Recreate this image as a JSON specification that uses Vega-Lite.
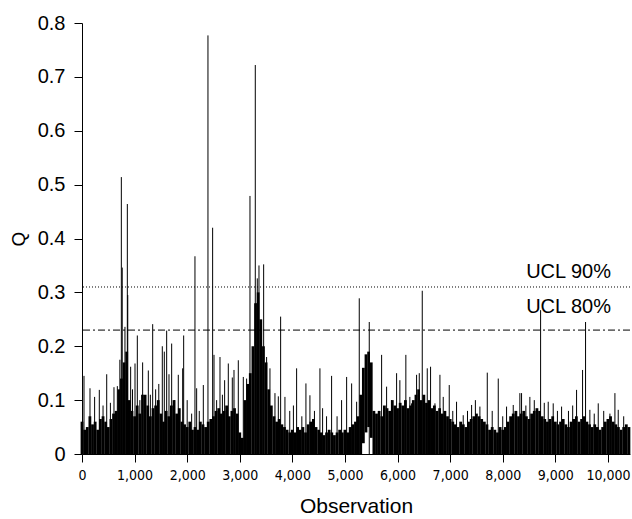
{
  "$schema": "https://vega.github.io/schema/vega-lite/v6.json",
  "width": 548,
  "height": 431,
  "autosize": {"type": "none"},
  "padding": {"left": 82, "top": 23, "right": 2, "bottom": 65},
  "background": "white",
  "config": {
    "view": {"stroke": null},
    "font": "Liberation Sans",
    "axis": {"grid": false, "domainColor": "#000", "tickColor": "#000", "labelColor": "#000", "titleColor": "#000", "titleFontWeight": "normal", "domainWidth": 1, "tickWidth": 1}
  },
  "datasets": {
    "mass": [
      {"x":0,"lo":0,"hi":0.06},{"x":50,"lo":0,"hi":0.045},{"x":100,"lo":0,"hi":0.05},{"x":150,"lo":0,"hi":0.07},{"x":200,"lo":0,"hi":0.055},{"x":250,"lo":0,"hi":0.06},{"x":300,"lo":0,"hi":0.045},{"x":350,"lo":0,"hi":0.065},{"x":400,"lo":0,"hi":0.07},{"x":450,"lo":0,"hi":0.06},
      {"x":500,"lo":0,"hi":0.05},{"x":550,"lo":0,"hi":0.065},{"x":600,"lo":0,"hi":0.075},{"x":650,"lo":0,"hi":0.08},{"x":700,"lo":0,"hi":0.12},{"x":750,"lo":0,"hi":0.14},{"x":800,"lo":0,"hi":0.17},{"x":850,"lo":0,"hi":0.19},{"x":900,"lo":0,"hi":0.1},{"x":950,"lo":0,"hi":0.08},
      {"x":1000,"lo":0,"hi":0.07},{"x":1050,"lo":0,"hi":0.09},{"x":1100,"lo":0,"hi":0.075},{"x":1150,"lo":0,"hi":0.11},{"x":1200,"lo":0,"hi":0.11},{"x":1250,"lo":0,"hi":0.09},{"x":1300,"lo":0,"hi":0.07},{"x":1350,"lo":0,"hi":0.085},{"x":1400,"lo":0,"hi":0.09},{"x":1450,"lo":0,"hi":0.1},
      {"x":1500,"lo":0,"hi":0.075},{"x":1550,"lo":0,"hi":0.06},{"x":1600,"lo":0,"hi":0.08},{"x":1650,"lo":0,"hi":0.07},{"x":1700,"lo":0,"hi":0.09},{"x":1750,"lo":0,"hi":0.1},{"x":1800,"lo":0,"hi":0.075},{"x":1850,"lo":0,"hi":0.085},{"x":1900,"lo":0,"hi":0.06},{"x":1950,"lo":0,"hi":0.055},
      {"x":2000,"lo":0,"hi":0.05},{"x":2050,"lo":0,"hi":0.06},{"x":2100,"lo":0,"hi":0.045},{"x":2150,"lo":0,"hi":0.05},{"x":2200,"lo":0,"hi":0.045},{"x":2250,"lo":0,"hi":0.06},{"x":2300,"lo":0,"hi":0.055},{"x":2350,"lo":0,"hi":0.05},{"x":2400,"lo":0,"hi":0.06},{"x":2450,"lo":0,"hi":0.065},
      {"x":2500,"lo":0,"hi":0.07},{"x":2550,"lo":0,"hi":0.08},{"x":2600,"lo":0,"hi":0.085},{"x":2650,"lo":0,"hi":0.075},{"x":2700,"lo":0,"hi":0.08},{"x":2750,"lo":0,"hi":0.09},{"x":2800,"lo":0,"hi":0.07},{"x":2850,"lo":0,"hi":0.08},{"x":2900,"lo":0,"hi":0.085},{"x":2950,"lo":0,"hi":0.075},
      {"x":3000,"lo":0,"hi":0.04},{"x":3050,"lo":0,"hi":0.03},{"x":3100,"lo":0,"hi":0.1},{"x":3150,"lo":0,"hi":0.13},{"x":3200,"lo":0,"hi":0.15},{"x":3250,"lo":0,"hi":0.2},{"x":3300,"lo":0,"hi":0.28},{"x":3350,"lo":0,"hi":0.3},{"x":3400,"lo":0,"hi":0.25},{"x":3450,"lo":0,"hi":0.2},
      {"x":3500,"lo":0,"hi":0.17},{"x":3550,"lo":0,"hi":0.12},{"x":3600,"lo":0,"hi":0.09},{"x":3650,"lo":0,"hi":0.07},{"x":3700,"lo":0,"hi":0.06},{"x":3750,"lo":0,"hi":0.065},{"x":3800,"lo":0,"hi":0.055},{"x":3850,"lo":0,"hi":0.05},{"x":3900,"lo":0,"hi":0.045},{"x":3950,"lo":0,"hi":0.04},
      {"x":4000,"lo":0,"hi":0.045},{"x":4050,"lo":0,"hi":0.04},{"x":4100,"lo":0,"hi":0.05},{"x":4150,"lo":0,"hi":0.045},{"x":4200,"lo":0,"hi":0.05},{"x":4250,"lo":0,"hi":0.04},{"x":4300,"lo":0,"hi":0.055},{"x":4350,"lo":0,"hi":0.06},{"x":4400,"lo":0,"hi":0.065},{"x":4450,"lo":0,"hi":0.05},
      {"x":4500,"lo":0,"hi":0.045},{"x":4550,"lo":0,"hi":0.04},{"x":4600,"lo":0,"hi":0.035},{"x":4650,"lo":0,"hi":0.04},{"x":4700,"lo":0,"hi":0.045},{"x":4750,"lo":0,"hi":0.04},{"x":4800,"lo":0,"hi":0.035},{"x":4850,"lo":0,"hi":0.04},{"x":4900,"lo":0,"hi":0.045},{"x":4950,"lo":0,"hi":0.04},
      {"x":5000,"lo":0,"hi":0.045},{"x":5050,"lo":0,"hi":0.04},{"x":5100,"lo":0,"hi":0.05},{"x":5150,"lo":0,"hi":0.055},{"x":5200,"lo":0,"hi":0.06},{"x":5250,"lo":0,"hi":0.07},{"x":5300,"lo":0,"hi":0.11},{"x":5350,"lo":0.02,"hi":0.16},{"x":5400,"lo":0.04,"hi":0.185},{"x":5450,"lo":0.05,"hi":0.19},
      {"x":5500,"lo":0.03,"hi":0.17},{"x":5550,"lo":0,"hi":0.08},{"x":5600,"lo":0,"hi":0.075},{"x":5650,"lo":0,"hi":0.08},{"x":5700,"lo":0,"hi":0.07},{"x":5750,"lo":0,"hi":0.09},{"x":5800,"lo":0,"hi":0.085},{"x":5850,"lo":0,"hi":0.08},{"x":5900,"lo":0,"hi":0.1},{"x":5950,"lo":0,"hi":0.09},
      {"x":6000,"lo":0,"hi":0.085},{"x":6050,"lo":0,"hi":0.095},{"x":6100,"lo":0,"hi":0.09},{"x":6150,"lo":0,"hi":0.1},{"x":6200,"lo":0,"hi":0.085},{"x":6250,"lo":0,"hi":0.09},{"x":6300,"lo":0,"hi":0.1},{"x":6350,"lo":0,"hi":0.11},{"x":6400,"lo":0,"hi":0.12},{"x":6450,"lo":0,"hi":0.1},
      {"x":6500,"lo":0,"hi":0.11},{"x":6550,"lo":0,"hi":0.095},{"x":6600,"lo":0,"hi":0.1},{"x":6650,"lo":0,"hi":0.085},{"x":6700,"lo":0,"hi":0.09},{"x":6750,"lo":0,"hi":0.08},{"x":6800,"lo":0,"hi":0.085},{"x":6850,"lo":0,"hi":0.075},{"x":6900,"lo":0,"hi":0.08},{"x":6950,"lo":0,"hi":0.07},
      {"x":7000,"lo":0,"hi":0.065},{"x":7050,"lo":0,"hi":0.06},{"x":7100,"lo":0,"hi":0.055},{"x":7150,"lo":0,"hi":0.05},{"x":7200,"lo":0,"hi":0.06},{"x":7250,"lo":0,"hi":0.055},{"x":7300,"lo":0,"hi":0.05},{"x":7350,"lo":0,"hi":0.06},{"x":7400,"lo":0,"hi":0.065},{"x":7450,"lo":0,"hi":0.07},
      {"x":7500,"lo":0,"hi":0.075},{"x":7550,"lo":0,"hi":0.07},{"x":7600,"lo":0,"hi":0.065},{"x":7650,"lo":0,"hi":0.06},{"x":7700,"lo":0,"hi":0.055},{"x":7750,"lo":0,"hi":0.045},{"x":7800,"lo":0,"hi":0.05},{"x":7850,"lo":0,"hi":0.045},{"x":7900,"lo":0,"hi":0.04},{"x":7950,"lo":0,"hi":0.05},
      {"x":8000,"lo":0,"hi":0.045},{"x":8050,"lo":0,"hi":0.05},{"x":8100,"lo":0,"hi":0.06},{"x":8150,"lo":0,"hi":0.07},{"x":8200,"lo":0,"hi":0.075},{"x":8250,"lo":0,"hi":0.08},{"x":8300,"lo":0,"hi":0.07},{"x":8350,"lo":0,"hi":0.075},{"x":8400,"lo":0,"hi":0.08},{"x":8450,"lo":0,"hi":0.07},
      {"x":8500,"lo":0,"hi":0.065},{"x":8550,"lo":0,"hi":0.075},{"x":8600,"lo":0,"hi":0.08},{"x":8650,"lo":0,"hi":0.085},{"x":8700,"lo":0,"hi":0.08},{"x":8750,"lo":0,"hi":0.07},{"x":8800,"lo":0,"hi":0.065},{"x":8850,"lo":0,"hi":0.06},{"x":8900,"lo":0,"hi":0.065},{"x":8950,"lo":0,"hi":0.07},
      {"x":9000,"lo":0,"hi":0.06},{"x":9050,"lo":0,"hi":0.055},{"x":9100,"lo":0,"hi":0.06},{"x":9150,"lo":0,"hi":0.065},{"x":9200,"lo":0,"hi":0.055},{"x":9250,"lo":0,"hi":0.05},{"x":9300,"lo":0,"hi":0.06},{"x":9350,"lo":0,"hi":0.065},{"x":9400,"lo":0,"hi":0.07},{"x":9450,"lo":0,"hi":0.06},
      {"x":9500,"lo":0,"hi":0.065},{"x":9550,"lo":0,"hi":0.07},{"x":9600,"lo":0,"hi":0.06},{"x":9650,"lo":0,"hi":0.055},{"x":9700,"lo":0,"hi":0.05},{"x":9750,"lo":0,"hi":0.055},{"x":9800,"lo":0,"hi":0.05},{"x":9850,"lo":0,"hi":0.045},{"x":9900,"lo":0,"hi":0.05},{"x":9950,"lo":0,"hi":0.06},
      {"x":10000,"lo":0,"hi":0.065},{"x":10050,"lo":0,"hi":0.07},{"x":10100,"lo":0,"hi":0.06},{"x":10150,"lo":0,"hi":0.055},{"x":10200,"lo":0,"hi":0.05},{"x":10250,"lo":0,"hi":0.045},{"x":10300,"lo":0,"hi":0.05},{"x":10350,"lo":0,"hi":0.055},{"x":10400,"lo":0,"hi":0.05}
    ],
    "spikes": [
      {"x":748,"q":0.514},{"x":765,"q":0.346},{"x":862,"q":0.464},{"x":870,"q":0.295},{"x":2148,"q":0.367},{"x":2395,"q":0.777},{"x":2484,"q":0.42},{"x":3194,"q":0.479},{"x":3295,"q":0.722},{"x":3333,"q":0.326},{"x":3365,"q":0.35},{"x":3454,"q":0.352},{"x":3777,"q":0.255},{"x":5272,"q":0.289},{"x":5462,"q":0.245},{"x":6470,"q":0.303},{"x":8720,"q":0.267},{"x":9575,"q":0.245},
      {"x":38,"q":0.145},{"x":152,"q":0.122},{"x":240,"q":0.106},{"x":329,"q":0.119},{"x":400,"q":0.09},{"x":470,"q":0.148},{"x":540,"q":0.095},{"x":608,"q":0.124},{"x":672,"q":0.126},{"x":720,"q":0.175},{"x":817,"q":0.236},{"x":840,"q":0.156},{"x":925,"q":0.162},{"x":960,"q":0.12},{"x":1008,"q":0.168},{"x":1052,"q":0.22},{"x":1100,"q":0.1},{"x":1153,"q":0.17},{"x":1261,"q":0.155},{"x":1300,"q":0.11},{"x":1344,"q":0.241},{"x":1400,"q":0.12},{"x":1460,"q":0.13},{"x":1527,"q":0.2},{"x":1565,"q":0.19},{"x":1610,"q":0.229},{"x":1654,"q":0.148},{"x":1705,"q":0.205},{"x":1760,"q":0.1},{"x":1831,"q":0.147},{"x":1914,"q":0.159},{"x":1933,"q":0.22},{"x":2000,"q":0.1},{"x":2085,"q":0.075},
      {"x":2180,"q":0.122},{"x":2230,"q":0.08},{"x":2307,"q":0.128},{"x":2510,"q":0.184},{"x":2560,"q":0.1},{"x":2624,"q":0.18},{"x":2670,"q":0.11},{"x":2712,"q":0.137},{"x":2782,"q":0.168},{"x":2858,"q":0.142},{"x":2890,"q":0.156},{"x":2972,"q":0.174},{"x":3067,"q":0.143},{"x":3130,"q":0.14},{"x":3244,"q":0.165},{"x":3510,"q":0.18},{"x":3574,"q":0.159},{"x":3669,"q":0.113},{"x":3733,"q":0.107},{"x":3859,"q":0.106},{"x":3950,"q":0.08},{"x":4020,"q":0.09},{"x":4081,"q":0.159},{"x":4180,"q":0.07},
      {"x":4258,"q":0.131},{"x":4334,"q":0.109},{"x":4420,"q":0.08},{"x":4524,"q":0.159},{"x":4575,"q":0.085},{"x":4650,"q":0.07},{"x":4746,"q":0.145},{"x":4850,"q":0.07},{"x":4936,"q":0.1},{"x":5032,"q":0.143},{"x":5127,"q":0.131},{"x":5222,"q":0.097},{"x":5697,"q":0.184},{"x":5792,"q":0.125},{"x":5887,"q":0.1},{"x":5982,"q":0.15},{"x":6044,"q":0.137},{"x":6158,"q":0.184},{"x":6234,"q":0.106},
      {"x":6267,"q":0.094},{"x":6362,"q":0.147},{"x":6413,"q":0.15},{"x":6565,"q":0.159},{"x":6628,"q":0.162},{"x":6711,"q":0.094},{"x":6806,"q":0.147},{"x":6869,"q":0.106},{"x":6983,"q":0.128},{"x":7050,"q":0.08},{"x":7122,"q":0.097},{"x":7249,"q":0.072},{"x":7330,"q":0.08},{"x":7408,"q":0.091},{"x":7480,"q":0.1},{"x":7566,"q":0.088},{"x":7706,"q":0.151},{"x":7800,"q":0.08},{"x":7915,"q":0.14},{"x":8000,"q":0.07},{"x":8073,"q":0.088},{"x":8200,"q":0.091},{"x":8326,"q":0.113},
      {"x":8358,"q":0.113},{"x":8440,"q":0.09},{"x":8516,"q":0.106},{"x":8600,"q":0.1},{"x":8790,"q":0.095},{"x":8865,"q":0.097},{"x":8960,"q":0.094},{"x":9040,"q":0.08},{"x":9119,"q":0.088},{"x":9250,"q":0.08},{"x":9330,"q":0.09},{"x":9404,"q":0.119},{"x":9518,"q":0.156},{"x":9657,"q":0.082},{"x":9740,"q":0.075},{"x":9816,"q":0.094},{"x":9920,"q":0.08},{"x":10038,"q":0.075},{"x":10133,"q":0.113},{"x":10196,"q":0.082},{"x":10300,"q":0.07}
    ],
    "ucl": [
      {"label": "UCL 90%", "level": 0.31},
      {"label": "UCL 80%", "level": 0.23}
    ]
  },
  "layer": [
    {
      "data": {"name": "mass"},
      "mark": {"type": "rule", "color": "#000", "strokeWidth": 2.8, "strokeCap": "butt"},
      "encoding": {
        "x": {"field": "x", "type": "quantitative", "scale": {"domain": [0, 10420], "nice": false, "zero": false},
          "axis": {"values": [0,1000,2000,3000,4000,5000,6000,7000,8000,9000,10000], "format": ",d", "title": "Observation", "labelFont": "DejaVu Sans Condensed, Liberation Sans", "labelFontSize": 14, "tickSize": 8, "labelPadding": 6, "titleFontSize": 21, "titlePadding": 13, "labelFlush": false}},
        "y": {"field": "lo", "type": "quantitative", "scale": {"domain": [0, 0.8], "nice": false},
          "axis": {"values": [0,0.1,0.2,0.3,0.4,0.5,0.6,0.7,0.8], "format": ".1~f", "title": "Q", "labelFontSize": 20, "tickSize": 8, "labelPadding": 9, "titleFontSize": 19, "titlePadding": 9}},
        "y2": {"field": "hi"}
      }
    },
    {
      "data": {"name": "spikes"},
      "mark": {"type": "rule", "color": "#000", "strokeWidth": 1},
      "encoding": {
        "x": {"field": "x", "type": "quantitative"},
        "y": {"field": "q", "type": "quantitative"},
        "y2": {"datum": 0}
      }
    },
    {
      "data": {"name": "ucl"},
      "mark": {"type": "rule", "color": "#000", "strokeWidth": 1},
      "encoding": {
        "y": {"field": "level", "type": "quantitative"},
        "strokeDash": {"field": "label", "type": "nominal", "scale": {"domain": ["UCL 90%", "UCL 80%"], "range": [[1, 2], [7, 3, 2, 3]]}, "legend": null}
      }
    },
    {
      "data": {"name": "ucl"},
      "transform": [{"filter": "datum.label == 'UCL 90%'"}],
      "mark": {"type": "text", "align": "right", "baseline": "alphabetic", "fontSize": 20, "color": "#000", "dy": -9},
      "encoding": {
        "x": {"datum": 10059, "type": "quantitative"},
        "y": {"field": "level", "type": "quantitative"},
        "text": {"field": "label"}
      }
    },
    {
      "data": {"name": "ucl"},
      "transform": [{"filter": "datum.label == 'UCL 80%'"}],
      "mark": {"type": "text", "align": "right", "baseline": "alphabetic", "fontSize": 20, "color": "#000", "dy": -17},
      "encoding": {
        "x": {"datum": 10059, "type": "quantitative"},
        "y": {"field": "level", "type": "quantitative"},
        "text": {"field": "label"}
      }
    }
  ]
}
